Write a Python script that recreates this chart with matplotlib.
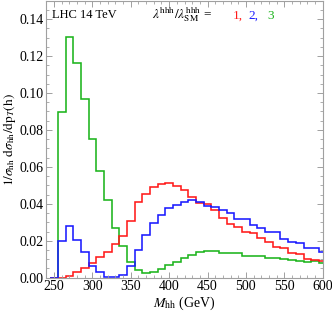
import numpy as np
import matplotlib
matplotlib.use("Agg")
import matplotlib.pyplot as plt
from matplotlib.ticker import MultipleLocator, FormatStrFormatter

plt.rcParams['font.family'] = ['Liberation Serif', 'DejaVu Serif']
plt.rcParams['mathtext.fontset'] = 'stix'

# bin edges (GeV)
edges = np.arange(245, 606, 10)

red = [0, 0, 0.0011, 0.0030, 0.0052, 0.0078, 0.0113, 0.0137, 0.0180, 0.0224,
       0.0308, 0.0408, 0.0453, 0.0489, 0.0507, 0.0512, 0.0498, 0.0474, 0.0435, 0.0406,
       0.0397, 0.0368, 0.0321, 0.0290, 0.0276, 0.0250, 0.0240, 0.0216, 0.0195, 0.0168,
       0.0160, 0.0133, 0.0126, 0.0101, 0.0097, 0.0088]
blue = [0, 0.0200, 0.0278, 0.0204, 0.0139, 0.0065, 0.0030, 0.0005, 0.0005, 0.0016,
        0.0065, 0.0152, 0.0230, 0.0296, 0.0341, 0.0375, 0.0395, 0.0411, 0.0418, 0.0410,
        0.0387, 0.0384, 0.0366, 0.0352, 0.0320, 0.0316, 0.0287, 0.0270, 0.0249, 0.0249,
        0.0207, 0.0195, 0.0190, 0.0159, 0.0159, 0.0141]
green = [0, 0.0895, 0.1302, 0.1163, 0.0969, 0.0752, 0.0579, 0.0423, 0.0268, 0.0173,
         0.0086, 0.0041, 0.0023, 0.0032, 0.0048, 0.0070, 0.0083, 0.0106, 0.0121, 0.0137,
         0.0144, 0.0144, 0.0133, 0.0135, 0.0133, 0.0119, 0.0115, 0.0115, 0.0106, 0.0104,
         0.0099, 0.0096, 0.0088, 0.0087, 0.0092, 0.0078]

c_red = '#ff1a1a'
c_blue = '#1a1aff'
c_green = '#1db51d'

fig = plt.figure(figsize=(3.32, 3.12), dpi=100)
ax = fig.add_axes([0.1395, 0.110, 0.8325, 0.888])

for vals, c in [(green, c_green), (red, c_red), (blue, c_blue)]:
    ax.stairs(vals, edges, baseline=None, color=c, lw=1.15)

ax.set_xlim(240, 600)
ax.set_ylim(0, 0.15)

ax.xaxis.set_major_locator(MultipleLocator(50))
ax.xaxis.set_minor_locator(MultipleLocator(10))
ax.yaxis.set_major_locator(MultipleLocator(0.02))
ax.yaxis.set_minor_locator(MultipleLocator(0.005))
ax.yaxis.set_major_formatter(FormatStrFormatter('%.2f'))

frame_c = '#a0a0a0'
for s in ax.spines.values():
    s.set_color(frame_c)
    s.set_linewidth(0.8)
ax.tick_params(which='both', direction='in', top=True, right=True,
               color=frame_c, labelsize=10, labelcolor='black', pad=2)
ax.tick_params(which='major', length=4, width=0.7)
ax.tick_params(which='minor', length=2, width=0.6)

ax.set_xlabel(r'$M_{\rm hh}$ (GeV)', fontsize=10, labelpad=1)
ax.set_ylabel(r'$1/\sigma_{\rm hh}\ \mathrm{d}\sigma_{\rm hh}/\mathrm{dp}_T\mathrm{(h)}$',
              fontsize=9.5, labelpad=1)

ty = 0.948
ax.text(0.021, ty, 'LHC 14 TeV', transform=ax.transAxes, fontsize=9,
        ha='left', va='center')
ax.text(0.382, ty, r'$\lambda^{\rm hhh}/\lambda^{\rm hhh}_{\rm SM}$ =', transform=ax.transAxes,
        fontsize=9.5, ha='left', va='center')
ax.text(0.675, ty - 0.003, '1,', transform=ax.transAxes, fontsize=9.5, ha='left', va='center', color=c_red)
ax.text(0.730, ty - 0.003, '2,', transform=ax.transAxes, fontsize=9.5, ha='left', va='center', color=c_blue)
ax.text(0.800, ty - 0.003, '3', transform=ax.transAxes, fontsize=9.5, ha='left', va='center', color=c_green)

fig.savefig('out.png', dpi=100)
